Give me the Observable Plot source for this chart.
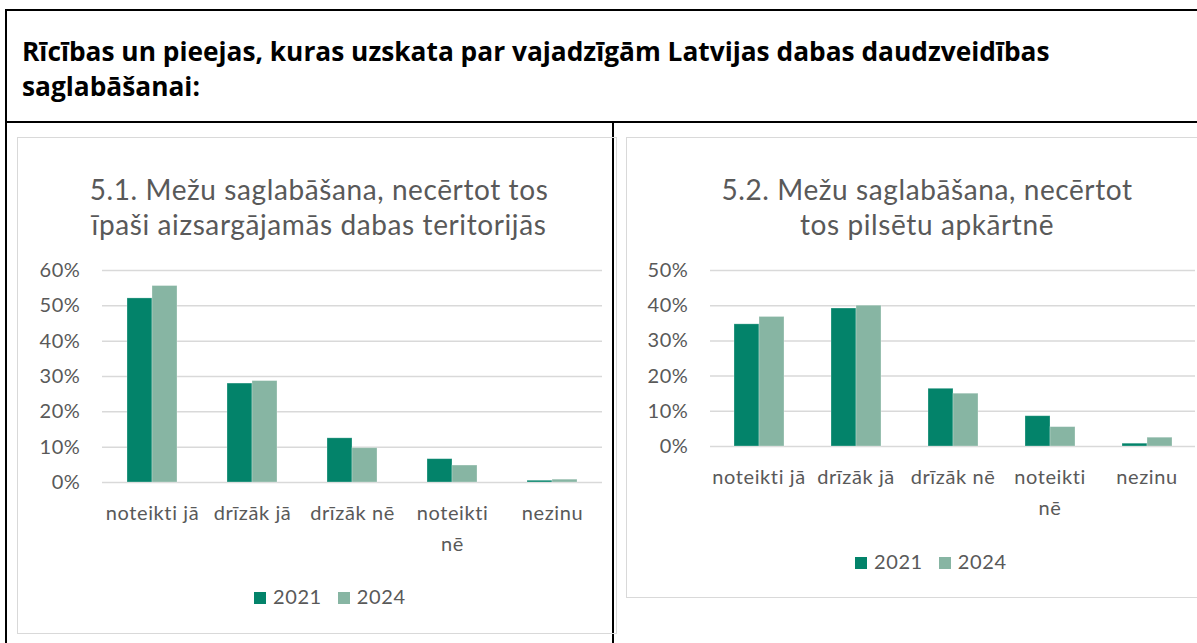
<!DOCTYPE html>
<html>
<head>
<meta charset="utf-8">
<script src="https://cdn.jsdelivr.net/npm/d3@7"></script>
<script src="https://cdn.jsdelivr.net/npm/@observablehq/plot@0.6"></script>
<style>
  html, body { margin: 0; padding: 0; background: #fff; }
  #page { position: relative; width: 1197px; height: 643px; overflow: hidden; font-family: Lato, "Open Sans", sans-serif; }
  .line { position: absolute; background: #000; }
  .frame { position: absolute; border: 1.5px solid #d9d9d9; box-sizing: border-box; }
  .ctitle { position: absolute; text-align: center; color: #595959; font-size: 28px; letter-spacing: 0.6px; line-height: 35px; white-space: nowrap; }
  .legend { position: absolute; color: #595959; font-size: 20px; letter-spacing: 0.6px; line-height: 20px; white-space: nowrap; }
  .legend span.sw { display: inline-block; width: 12px; height: 12px; vertical-align: 0px; margin-right: 7px; }
  .legend span.lab { margin-right: 16px; }
  .chart { position: absolute; }
  .chart svg text { letter-spacing: 0.6px; }
</style>
</head>
<body>
<div id="page">
  <div class="line" style="left:5px; top:9px; width:1200px; height:2px;"></div>
  <div class="line" style="left:5px; top:9px; width:2px; height:640px;"></div>
  <div class="line" style="left:5px; top:121px; width:1200px; height:2px;"></div>
  <div class="line" style="left:612px; top:121px; width:2px; height:530px;"></div>
  <div id="header" style="position:absolute; left:22px; top:34px; font-family:'Open Sans', Lato, sans-serif; font-weight:bold; font-size:26.3px; line-height:35px; color:#000; white-space:nowrap;"></div>

  <div class="frame" style="left:17px; top:137px; width:600px; height:497px;"></div>
  <div class="frame" style="left:626px; top:137px; width:620px; height:461px;"></div>

  <div id="t1" class="ctitle" style="left:17px; width:604px; top:172px;"></div>
  <div id="t2" class="ctitle" style="left:626px; width:602px; top:172px;"></div>

  <div id="c1" class="chart" style="left:18px; top:250px;"></div>
  <div id="c2" class="chart" style="left:624px; top:250px;"></div>

  <div id="l1" class="legend" style="left:254px; top:586px;"></div>
  <div id="l2" class="legend" style="left:855px; top:551px;"></div>
</div>
<script>
// ---- data ----
const headerLines = ["Rīcības un pieejas, kuras uzskata par vajadzīgām Latvijas dabas daudzveidības", "saglabāšanai:"];
const title1Lines = ["5.1. Mežu saglabāšana, necērtot tos", "īpaši aizsargājamās dabas teritorijās"];
const title2Lines = ["5.2. Mežu saglabāšana, necērtot", "tos pilsētu apkārtnē"];
const categories = ["noteikti jā", "drīzāk jā", "drīzāk nē", "noteikti nē", "nezinu"];
const categoryLabels = ["noteikti jā", "drīzāk jā", "drīzāk nē", "noteikti\nnē", "nezinu"];
const years = ["2021", "2024"];
const chart1_2021 = [0.521, 0.280, 0.125, 0.066, 0.005];
const chart1_2024 = [0.556, 0.287, 0.097, 0.048, 0.008];
const chart2_2021 = [0.347, 0.392, 0.164, 0.086, 0.008];
const chart2_2024 = [0.368, 0.400, 0.150, 0.055, 0.025];
const yTicks1 = [0, 0.1, 0.2, 0.3, 0.4, 0.5, 0.6];
const yTicks2 = [0, 0.1, 0.2, 0.3, 0.4, 0.5];
const colors = ["#03836a", "#87b5a3"];

// ---- text ----
document.getElementById("header").innerHTML = headerLines.join("<br>");
document.getElementById("t1").innerHTML = title1Lines.join("<br>");
document.getElementById("t2").innerHTML = title2Lines.join("<br>");
for (const id of ["l1", "l2"]) {
  document.getElementById(id).innerHTML = years.map((y, i) =>
    `<span class="sw" style="background:${colors[i]}"></span><span class="lab">${y}</span>`).join("");
}

function rows(v2021, v2024) {
  const out = [];
  categories.forEach((c, i) => {
    out.push({cat: c, year: years[0], value: v2021[i]});
    out.push({cat: c, year: years[1], value: v2024[i]});
  });
  return out;
}
const labelOf = new Map(categories.map((c, i) => [c, categoryLabels[i]]));

function makeChart(data, ticks, width, height, marginLeft, marginRight, marginBottom) {
  return Plot.plot({
    width, height,
    marginLeft, marginRight, marginTop: 20, marginBottom,
    style: {fontFamily: "Lato, 'Open Sans', sans-serif", color: "#595959", background: "transparent", overflow: "visible"},
    fx: {domain: categories, padding: 0, label: null, axis: null},
    x: {domain: years, paddingInner: 0, paddingOuter: 0.925, axis: null},
    y: {domain: [0, ticks[ticks.length - 1]], axis: null, label: null},
    color: {domain: years, range: colors},
    marks: [
      Plot.gridY(ticks, {stroke: "#d9d9d9", strokeOpacity: 1, strokeWidth: 1.5}),
      Plot.barY(data, {fx: "cat", x: "year", y: "value", fill: "year", stroke: "#ffffff", strokeOpacity: 0.35, strokeWidth: 0.8}),
      Plot.axisY(ticks, {tickFormat: d3.format(".0%"), tickSize: 0, tickPadding: 22, fontSize: 20, fill: "#595959", label: null}),
      Plot.axisFx({anchor: "bottom", tickSize: 0, tickPadding: 15.5, fontSize: 20, fill: "#595959", lineHeight: 1.55, tickFormat: d => labelOf.get(d), label: null})
    ]
  });
}

document.getElementById("c1").append(makeChart(rows(chart1_2021, chart1_2024), yTicks1, 590, 310, 83, 5, 78));
document.getElementById("c2").append(makeChart(rows(chart2_2021, chart2_2024), yTicks2, 573, 274, 84, 0, 78));
</script>
</body>
</html>
